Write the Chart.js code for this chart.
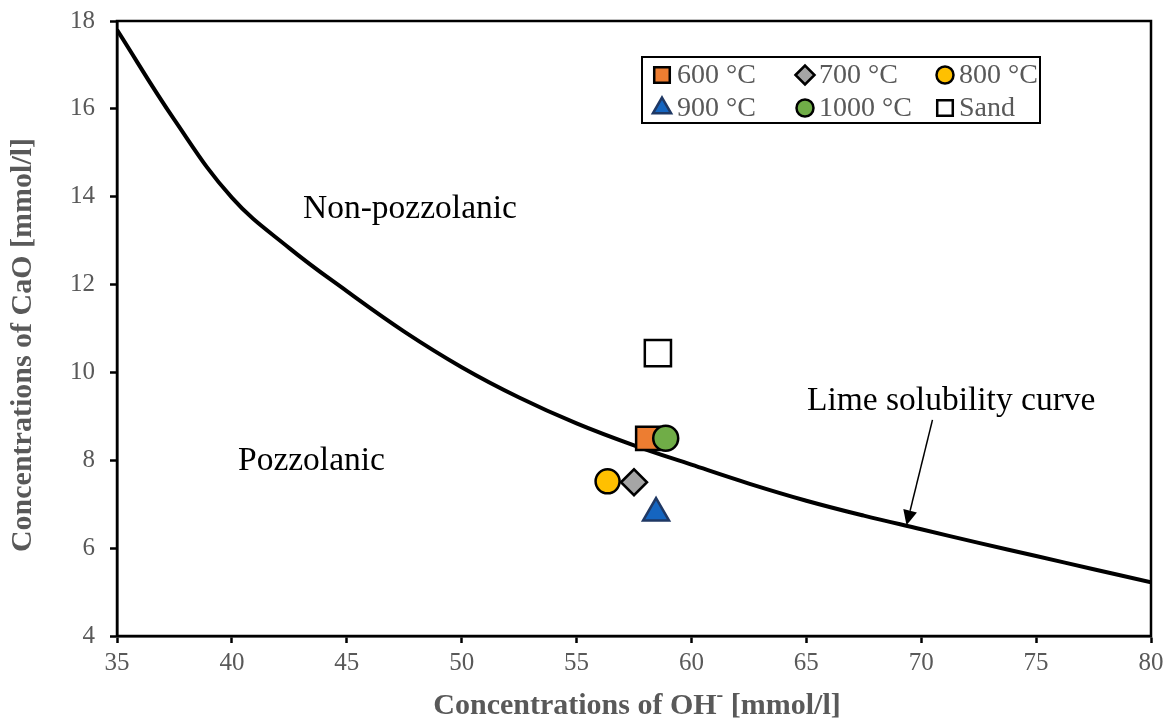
<!DOCTYPE html>
<html>
<head>
<meta charset="utf-8">
<script src="https://cdn.jsdelivr.net/npm/chart.js@4/dist/chart.umd.min.js"></script>
<style>
  html, body { margin: 0; padding: 0; background: #ffffff; }
  canvas { display: block; }
</style>
</head>
<body>
<canvas id="chart" width="1172" height="724"></canvas>
<script>
// Lime solubility curve (OH- vs CaO, mmol/l)
const curveOH  = [35, 37.5, 40, 42.5, 45, 47.5, 50, 52.5, 55, 57.5, 60, 62.5, 65, 67.5, 70, 72.5, 75, 77.5, 80];
const curveCaO = [17.8, 15.75, 13.98, 12.83, 11.85, 10.93, 10.12, 9.43, 8.84, 8.34, 7.9, 7.47, 7.08, 6.74, 6.43, 6.12, 5.82, 5.52, 5.22];

// Measured samples
const sampleNames = ['600 °C', '700 °C', '800 °C', '900 °C', '1000 °C', 'Sand'];
const sampleOH    = [58.1, 57.5, 56.35, 58.46, 58.88, 58.54];
const sampleCaO   = [8.5, 7.5, 7.52, 6.8, 8.5, 10.44];

// Axis ticks
const xTicks = [35, 40, 45, 50, 55, 60, 65, 70, 75, 80];
const yTicks = [4, 6, 8, 10, 12, 14, 16, 18];

const SERIF = "'Liberation Serif', 'Times New Roman', serif";
const GREY = '#595959';

const markerStyles = [
  { pointStyle: 'rect',    fill: '#ED7D31', stroke: '#000000', radius: 16.5, legendRadius: 11,  order: 5 },
  { pointStyle: 'rectRot', fill: '#A5A5A5', stroke: '#000000', radius: 13,   legendRadius: 9.5, order: 3 },
  { pointStyle: 'circle',  fill: '#FFC000', stroke: '#000000', radius: 12,   legendRadius: 8.5, order: 2 },
  { pointStyle: 'triangle',fill: '#1565C0', stroke: '#1F3864', radius: 15,   legendRadius: 10.5,order: 4 },
  { pointStyle: 'circle',  fill: '#70AD47', stroke: '#000000', radius: 12.5, legendRadius: 8.5, order: 1 },
  { pointStyle: 'rect',    fill: '#FFFFFF', stroke: '#000000', radius: 18.5, legendRadius: 11,  order: 6 }
];

const datasets = [{
  label: 'Lime solubility curve',
  data: curveOH.map((x, i) => ({ x: x, y: curveCaO[i] })),
  showLine: true,
  borderColor: '#000000',
  borderWidth: 4,
  pointRadius: 0,
  tension: 0.4,
  order: 10
}];

sampleNames.forEach((name, i) => {
  const s = markerStyles[i];
  datasets.push({
    label: name,
    data: [{ x: sampleOH[i], y: sampleCaO[i] }],
    pointStyle: s.pointStyle,
    pointRadius: s.radius,
    pointHoverRadius: s.radius,
    backgroundColor: s.fill,
    borderColor: s.stroke,
    pointBorderWidth: 2.5,
    borderWidth: 2.5,
    legendRadius: s.legendRadius,
    order: s.order
  });
});

// Frame, legend box, region labels, arrow and axis titles
const decorations = {
  id: 'decorations',
  afterDraw(chart) {
    const ctx = chart.ctx;
    const area = chart.chartArea;
    const xs = chart.scales.x, ys = chart.scales.y;

    ctx.save();
    // closing frame around the plot
    ctx.strokeStyle = '#000';
    ctx.lineWidth = 2.5;
    ctx.strokeRect(area.left, area.top, area.right - area.left, area.bottom - area.top);

    // region labels
    ctx.fillStyle = '#000';
    ctx.font = '33.5px ' + SERIF;
    ctx.textAlign = 'left';
    ctx.textBaseline = 'alphabetic';
    ctx.fillText('Non-pozzolanic', 303, 218);
    ctx.fillText('Pozzolanic', 238, 470);
    ctx.fillText('Lime solubility curve', 807, 410);

    // arrow pointing at the curve
    const ax0 = xs.getPixelForValue(70.49), ay0 = ys.getPixelForValue(8.92);
    const ax1 = xs.getPixelForValue(69.36), ay1 = ys.getPixelForValue(6.52);
    const ang = Math.atan2(ay1 - ay0, ax1 - ax0);
    const headLen = 15, headHalf = 7;
    const bx = ax1 - headLen * Math.cos(ang), by = ay1 - headLen * Math.sin(ang);
    ctx.lineWidth = 1.5;
    ctx.beginPath();
    ctx.moveTo(ax0, ay0);
    ctx.lineTo(bx, by);
    ctx.stroke();
    ctx.beginPath();
    ctx.moveTo(ax1, ay1);
    ctx.lineTo(bx + headHalf * Math.sin(ang), by - headHalf * Math.cos(ang));
    ctx.lineTo(bx - headHalf * Math.sin(ang), by + headHalf * Math.cos(ang));
    ctx.closePath();
    ctx.fill();

    // legend
    ctx.lineWidth = 2;
    ctx.strokeStyle = '#000';
    ctx.fillStyle = '#fff';
    ctx.fillRect(642, 57, 398, 66);
    ctx.strokeRect(642, 57, 398, 66);
    const markX = [662, 805, 945];
    const textX = [677, 819, 959];
    const rowY = [75, 108];
    ctx.font = '28px ' + SERIF;
    ctx.textBaseline = 'middle';
    for (let i = 0; i < sampleNames.length; i++) {
      const ds = chart.data.datasets[i + 1];
      const col = i % 3, row = Math.floor(i / 3);
      ctx.fillStyle = ds.backgroundColor;
      ctx.strokeStyle = ds.borderColor;
      ctx.lineWidth = 2.5;
      Chart.helpers.drawPoint(ctx, { pointStyle: ds.pointStyle, radius: ds.legendRadius, rotation: 0, borderWidth: 2.5 },
        markX[col], rowY[row]);
      ctx.fillStyle = GREY;
      ctx.fillText(ds.label, textX[col], rowY[row] + 1);
    }

    // axis titles
    ctx.fillStyle = GREY;
    ctx.textBaseline = 'middle';
    const big = 'bold 30px ' + SERIF, small = 'bold 20px ' + SERIF;
    const p1 = 'Concentrations of OH', p2 = ' [mmol/l]';
    ctx.font = big;
    const w1 = ctx.measureText(p1).width;
    const w2 = ctx.measureText(p2).width;
    ctx.font = small;
    const wm = ctx.measureText('-').width;
    const total = w1 + wm + w2;
    const tx = 637 - total / 2;
    const ty = 706;
    ctx.textAlign = 'left';
    ctx.font = big;
    ctx.fillText(p1, tx, ty);
    ctx.font = small;
    ctx.fillText('-', tx + w1, ty - 10);
    ctx.font = big;
    ctx.fillText(p2, tx + w1 + wm, ty);

    ctx.translate(23, 345);
    ctx.rotate(-Math.PI / 2);
    ctx.textAlign = 'center';
    ctx.fillText('Concentrations of CaO [mmol/l]', 0, 0);
    ctx.restore();
  }
};

// The plot box is fixed by layout padding, not by label overhang
function clearOverhang(axis) {
  axis.paddingTop = 0;
  axis.paddingBottom = 0;
  axis.paddingLeft = 0;
  axis.paddingRight = 0;
}

new Chart(document.getElementById('chart'), {
  type: 'scatter',
  data: { datasets: datasets },
  options: {
    responsive: false,
    devicePixelRatio: 1,
    animation: false,
    layout: { padding: { top: 19, right: 19, left: 0, bottom: 0 } },
    plugins: { legend: { display: false }, tooltip: { enabled: false } },
    scales: {
      x: {
        type: 'linear',
        min: 35, max: 80,
        afterBuildTicks: (axis) => { axis.ticks = xTicks.map(v => ({ value: v })); },
        afterFit: (axis) => { axis.height = 88; clearOverhang(axis); },
        ticks: { color: GREY, font: { family: SERIF, size: 25 }, padding: 5 },
        grid: { drawOnChartArea: false, drawTicks: true, tickLength: 7, tickWidth: 2.5, color: '#000' },
        border: { color: '#000', width: 2.5 }
      },
      y: {
        type: 'linear',
        min: 4, max: 18,
        afterBuildTicks: (axis) => { axis.ticks = yTicks.map(v => ({ value: v })); },
        afterFit: (axis) => { axis.width = 117; clearOverhang(axis); },
        ticks: { color: GREY, font: { family: SERIF, size: 25 }, padding: 15 },
        grid: { drawOnChartArea: false, drawTicks: true, tickLength: 7, tickWidth: 2.5, color: '#000' },
        border: { color: '#000', width: 2.5 }
      }
    }
  },
  plugins: [decorations]
});
</script>
</body>
</html>
